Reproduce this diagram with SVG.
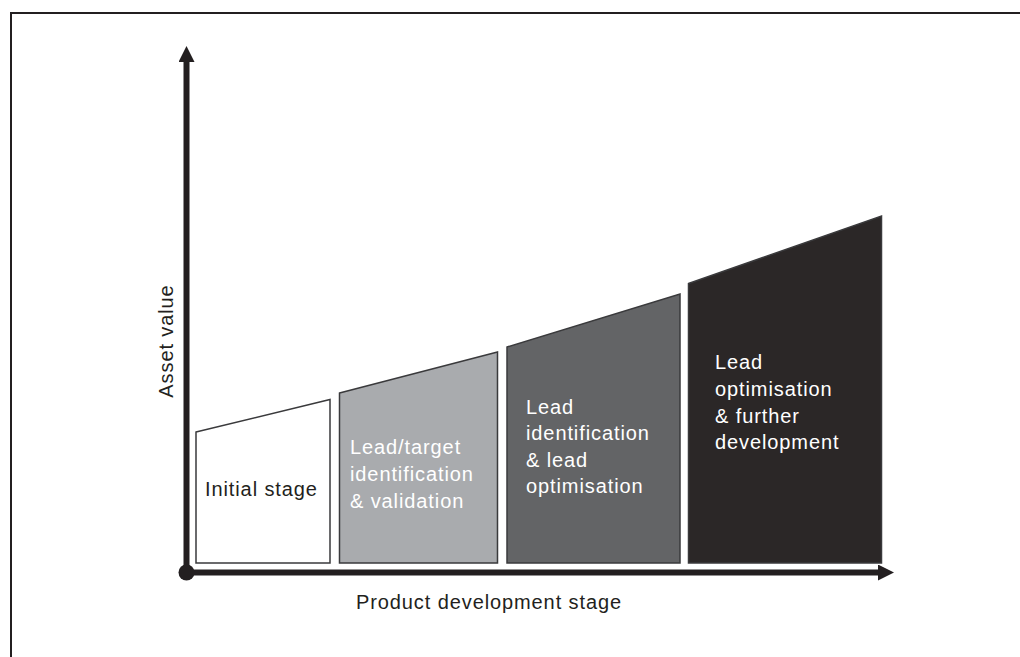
<svg xmlns="http://www.w3.org/2000/svg" width="1020" height="657" viewBox="0 0 1020 657">
  <style>
    .lbl { font-family: "Liberation Sans", Arial, sans-serif; font-size: 20px; letter-spacing: 0.9px; }
    .stage { stroke: #3a3a3c; stroke-width: 1.5; }
    .axis { stroke: #231f20; stroke-width: 6; fill: none; }
  </style>
  <defs>
    <marker id="arrow" viewBox="0 0 16 16" refX="2" refY="8" markerWidth="16" markerHeight="16" markerUnits="userSpaceOnUse" orient="auto">
      <path d="M0,0 L16,8 L0,16 Z" fill="#231f20"/>
    </marker>
  </defs>
  <rect width="1020" height="657" fill="#ffffff"/>
  <!-- frame -->
  <path d="M11,657 L11,13 L1020,13" fill="none" stroke="#231f20" stroke-width="2"/>

  <!-- stage blocks -->
  <g id="stage-initial">
    <path class="stage" d="M196,432 L330,399.5 L330,563 L196,563 Z" fill="#ffffff"/>
    <text class="lbl" x="205" y="496" fill="#231f20">Initial stage</text>
  </g>
  <g id="stage-target">
    <path class="stage" d="M339.5,393 L497.5,352 L497.5,563 L339.5,563 Z" fill="#a9abae"/>
    <text class="lbl" fill="#ffffff"><tspan x="350" y="454">Lead/target</tspan><tspan x="350" y="480.5">identification</tspan><tspan x="350" y="508">&amp; validation</tspan></text>
  </g>
  <g id="stage-identification">
    <path class="stage" d="M507,347 L680,294 L680,563 L507,563 Z" fill="#636466"/>
    <text class="lbl" fill="#ffffff"><tspan x="526" y="414">Lead</tspan><tspan x="526" y="440">identification</tspan><tspan x="526" y="466.5">&amp; lead</tspan><tspan x="526" y="492.5">optimisation</tspan></text>
  </g>
  <g id="stage-optimisation">
    <path class="stage" d="M688.5,283.5 L881.5,216 L881.5,563 L688.5,563 Z" fill="#2b2727" stroke="#2b2727"/>
    <text class="lbl" fill="#ffffff"><tspan x="715" y="369">Lead</tspan><tspan x="715" y="395.5">optimisation</tspan><tspan x="715" y="422.5">&amp; further</tspan><tspan x="715" y="449">development</tspan></text>
  </g>

  <!-- axes -->
  <g id="connectors">
    <line class="axis" x1="186.5" y1="572.5" x2="186.5" y2="60" marker-end="url(#arrow)"/>
    <line class="axis" x1="186.5" y1="572.5" x2="880" y2="572.5" marker-end="url(#arrow)"/>
    <circle cx="186.5" cy="572.5" r="8" fill="#231f20"/>
  </g>

  <!-- axis titles -->
  <text class="lbl" x="489" y="609" text-anchor="middle" fill="#231f20" letter-spacing="1.3">Product development stage</text>
  <text class="lbl" transform="translate(173,341) rotate(-90)" text-anchor="middle" fill="#231f20">Asset value</text>
</svg>
